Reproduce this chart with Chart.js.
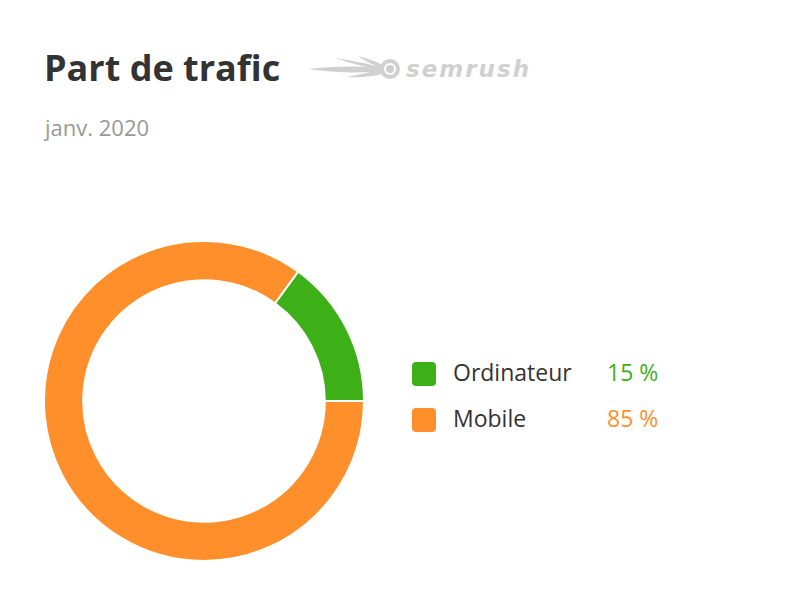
<!DOCTYPE html>
<html>
<head>
<meta charset="utf-8">
<script src="https://cdn.jsdelivr.net/npm/chart.js@4/dist/chart.umd.min.js"></script>
<style>
    html, body { margin: 0; padding: 0; background: #fff; }
    body { width: 790px; height: 606px; position: relative; overflow: hidden; font-family: "Open Sans", "Noto Sans", sans-serif; }
    #title { position: absolute; left: 44px; top: 43px; font-size: 36px; font-weight: 700; color: #333; }
    #subtitle { position: absolute; left: 45px; top: 112px; font-size: 22px; color: #999; }
    #logo { position: absolute; left: 306px; top: 54px; }
    #chartBox { position: absolute; left: 43px; top: 240px; width: 322px; height: 322px; }
    #legend { position: absolute; left: 412px; top: 358px; }
    .row { position: relative; height: 46px; }
    .swatch { position: absolute; left: 0; top: 4px; width: 24px; height: 24px; border-radius: 4px; }
    .label { position: absolute; left: 41px; top: -2px; font-size: 23px; color: #333; white-space: nowrap; }
    .value { position: absolute; left: 195px; top: -2px; font-size: 23px; white-space: nowrap; }
</style>
</head>
<body>
<div id="title">Part de trafic</div>
<svg id="logo" width="230" height="30" viewBox="0 0 230 30">
    <g fill="#d0d0d0">
        <path d="M2 15 C20 13 40 12 60 13 C48 10 38 7 30 4 C44 6 58 9 70 12 C62 8 56 5 52 2 C64 5 74 9 80 13 L80 19 C70 22 56 24 40 23 C52 21 60 19 64 18 C44 19 22 18 2 15 Z"/>
        <circle cx="84" cy="15" r="10"/>
    </g>
    <circle cx="84" cy="15" r="6" fill="#fff"/>
    <circle cx="84" cy="15" r="4" fill="#d0d0d0"/>
    <text x="100" y="23" font-family="'DejaVu Sans', sans-serif" font-size="23" font-weight="700" font-style="italic" fill="#d0d0d0" letter-spacing="2">semrush</text>
</svg>
<div id="subtitle">janv. 2020</div>
<div id="chartBox"><canvas id="trafficChart"></canvas></div>
<div id="legend"></div>
<script>
const categories = ['Ordinateur', 'Mobile'];
const shareValues = [15, 85];
const sliceColors = ['#3daf17', '#ff8f2b'];

function buildLegend() {
    const legend = document.getElementById('legend');
    categories.forEach(function (name, i) {
        const row = document.createElement('div');
        row.className = 'row';
        row.innerHTML =
            '<div class="swatch" style="background:' + sliceColors[i] + '"></div>' +
            '<div class="label">' + name + '</div>' +
            '<div class="value" style="color:' + sliceColors[i] + '">' + shareValues[i] + ' %</div>';
        legend.appendChild(row);
    });
}

function loadTrafficChart() {
    new Chart(document.getElementById('trafficChart'), {
        type: 'doughnut',
        data: {
            labels: categories,
            datasets: [{
                data: shareValues,
                backgroundColor: sliceColors,
                borderColor: '#fff',
                borderWidth: 2
            }]
        },
        options: {
            responsive: true,
            maintainAspectRatio: false,
            animation: false,
            rotation: 36,
            cutout: '75.5%',
            layout: { padding: 0 },
            plugins: {
                legend: { display: false },
                tooltip: { enabled: false }
            }
        }
    });
}

buildLegend();
loadTrafficChart();
</script>
</body>
</html>
